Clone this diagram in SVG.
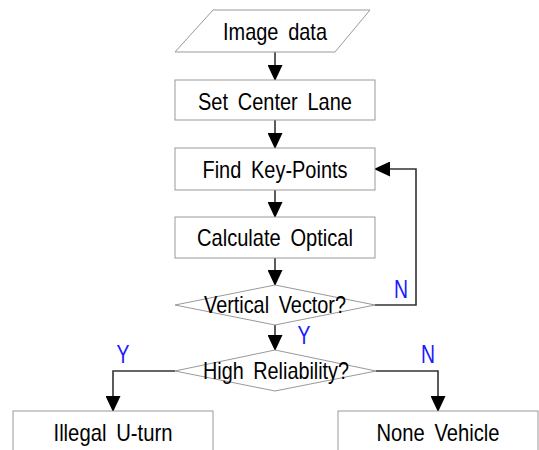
<svg xmlns="http://www.w3.org/2000/svg" width="539" height="450" viewBox="0 0 539 450">
<style>
.box{fill:#fff;stroke:#999;stroke-width:1}
.t{font-family:"Liberation Sans",Arial,sans-serif;font-size:24px;fill:#000;text-anchor:middle;word-spacing:5px}
.lbl{font-family:"Liberation Sans",Arial,sans-serif;font-size:25px;fill:#1a1aff;text-anchor:middle}
.c{fill:none;stroke:#333;stroke-width:1.6}
</style>
<defs>
<marker id="ah" markerUnits="userSpaceOnUse" markerWidth="16" markerHeight="15" refX="15" refY="7.5" orient="auto" viewBox="0 0 16 15">
<path d="M0,0 L16,7.5 L0,15 Z" fill="#000"/>
</marker>
</defs>
<rect width="539" height="450" fill="#fff"/>
<g id="connectors">
<path class="c" d="M275,52 V80" marker-end="url(#ah)"/>
<path class="c" d="M275,120 V148" marker-end="url(#ah)"/>
<path class="c" d="M275,190 V217" marker-end="url(#ah)"/>
<path class="c" d="M275,258 V285" marker-end="url(#ah)"/>
<path class="c" d="M275,325 V350" marker-end="url(#ah)"/>
<path class="c" d="M375,305 H416 V169 H375" marker-end="url(#ah)"/>
<path class="c" d="M175,371 H113 V411" marker-end="url(#ah)"/>
<path class="c" d="M376,371 H438 V411" marker-end="url(#ah)"/>
<text class="lbl" x="401" y="298" textLength="14" lengthAdjust="spacingAndGlyphs">N</text>
<text class="lbl" x="304" y="344" textLength="13" lengthAdjust="spacingAndGlyphs">Y</text>
<text class="lbl" x="123" y="363" textLength="13" lengthAdjust="spacingAndGlyphs">Y</text>
<text class="lbl" x="428" y="363" textLength="14" lengthAdjust="spacingAndGlyphs">N</text>
</g>
<g id="image-data">
<polygon class="box" points="213,10 370,10 335,52 175,52"/>
<text class="t" x="275" y="40" textLength="104" lengthAdjust="spacingAndGlyphs">Image data</text>
</g>
<g id="set-center-lane">
<rect class="box" x="175" y="80" width="200" height="40"/>
<text class="t" x="275" y="110" textLength="154" lengthAdjust="spacingAndGlyphs">Set Center Lane</text>
</g>
<g id="find-key-points">
<rect class="box" x="175" y="148" width="200" height="42"/>
<text class="t" x="275" y="178" textLength="145" lengthAdjust="spacingAndGlyphs">Find Key-Points</text>
</g>
<g id="calculate-optical">
<rect class="box" x="175" y="217" width="200" height="41"/>
<text class="t" x="275" y="246" textLength="156" lengthAdjust="spacingAndGlyphs">Calculate Optical</text>
</g>
<g id="vertical-vector">
<polygon class="box" points="275,285 375,305 275,325 175,305"/>
<text class="t" x="275" y="313" textLength="142" lengthAdjust="spacingAndGlyphs">Vertical Vector?</text>
</g>
<g id="high-reliability">
<polygon class="box" points="275,350 376,371 275,391 175,371"/>
<text class="t" x="276" y="379" textLength="146" lengthAdjust="spacingAndGlyphs">High Reliability?</text>
</g>
<g id="illegal-u-turn">
<rect class="box" x="13" y="411" width="200" height="45"/>
<text class="t" x="113" y="441" textLength="119" lengthAdjust="spacingAndGlyphs">Illegal U-turn</text>
</g>
<g id="none-vehicle">
<rect class="box" x="338" y="411" width="200" height="45"/>
<text class="t" x="438" y="441" textLength="123" lengthAdjust="spacingAndGlyphs">None Vehicle</text>
</g>
</svg>
